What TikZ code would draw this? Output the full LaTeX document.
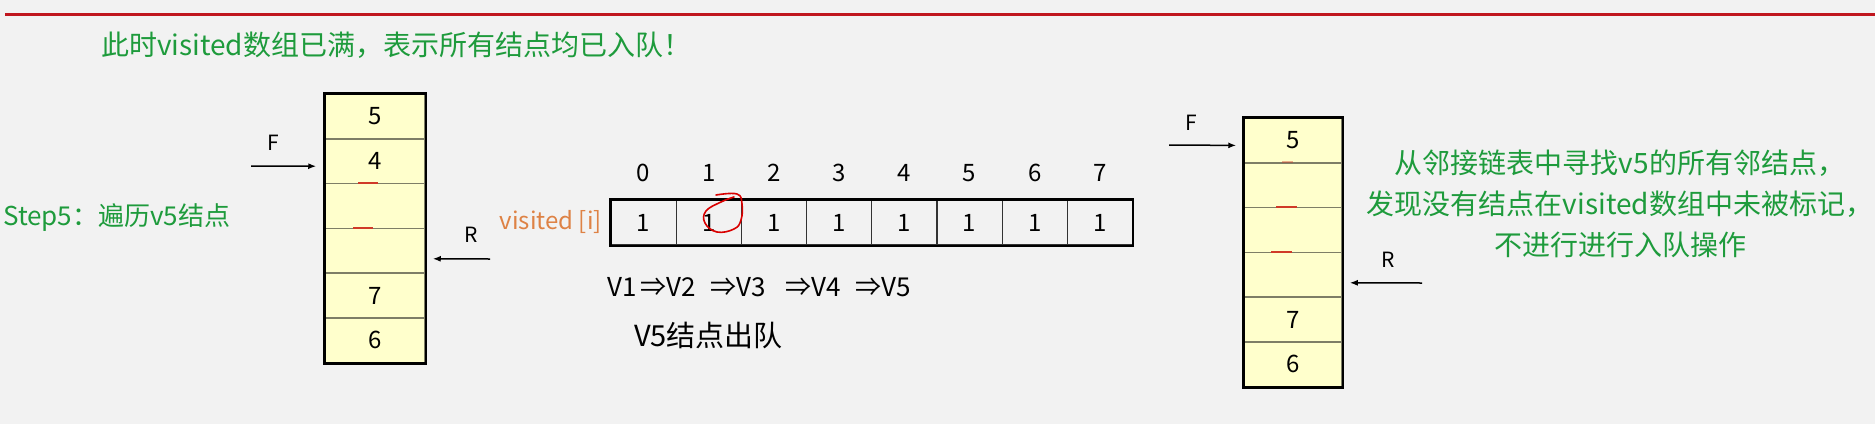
\documentclass[tikz,border=0pt]{standalone}
\usepackage{fontspec}
\setmainfont{Noto Sans CJK SC}
\usetikzlibrary{arrows.meta, positioning}
\definecolor{CGreen}{HTML}{1E9B3C}
\definecolor{COrange}{HTML}{DE8245}
\definecolor{CRed}{HTML}{C0161E}
\definecolor{CMark}{HTML}{D03A28}
\definecolor{QFill}{HTML}{FFFFCC}
\definecolor{QLine}{HTML}{7E7E66}
\definecolor{CBack}{HTML}{F2F2F2}

\tikzset{
    qcell/.style={draw=QLine, line width=1.5pt, fill=QFill, inner sep=0pt,
        minimum width=#1, minimum height=44.8pt, font=\fontsize{24}{24}\selectfont},
    qborder/.style={draw=black, line width=2.5pt},
    acell/.style={draw=black!80, line width=1.2pt, minimum width=65.2pt,
        minimum height=45pt, inner sep=0pt, font=\fontsize{24}{24}\selectfont},
    note/.style={CGreen, font=\fontsize{28}{41}\selectfont, inner sep=0pt},
    lbl/.style={font=\fontsize{21}{21}\selectfont, inner sep=0pt},
    ptr/.style={-{Latex[length=8pt,width=6pt]}, line width=1.5pt},
    redmark/.style={CMark, line width=2pt}
}

\begin{document}
\begin{tikzpicture}[x=1pt, y=-1pt]
    \useasboundingbox (0,0) rectangle (1875,424);
    \fill[CBack] (0,0) rectangle (1875,424);

    % Top rule
    \draw[CRed, line width=3pt] (5,14) -- (1875,14);

    % Notes
    \node[note, anchor=west] (title) at (101,45) {此时visited数组已满，表示所有结点均已入队！};
    \node[note, anchor=west, font=\fontsize{26}{26}\selectfont] (step) at (3,218) {Step5：遍历v5结点};

    % Left queue
    \foreach \val [count=\i] in {5,4,{},{},7,6}
        \node[qcell=100pt] (lq\i) at (375, 94+44.8*\i-22.4) {\val};
    \draw[qborder] (lq1.north west) rectangle (lq6.south east);
    \draw[redmark] ([xshift=-17pt]lq3.north) -- ++(20,0);
    \draw[redmark] ([xshift=-22pt]lq4.north) -- ++(20,0);

    % Left pointers
    \node[lbl] (lf) at (273,143) {F};
    \coordinate (lfs) at (251,166);
    \draw[ptr] (lfs) -- ([xshift=-8pt, yshift=-5pt]lq2.west);
    \node[lbl] (lr) at (471,235) {R};
    \coordinate (lrs) at (490,259);
    \draw[ptr] (lrs) -- ([xshift=7pt, yshift=-8pt]lq4.east);

    % visited array
    \node[COrange, font=\fontsize{24}{24}\selectfont, inner sep=0pt, anchor=east] (vis) at (602,222) {visited [i]};
    \foreach \i in {0,...,7} {
        \node[acell] (v\i) at (643.6+65.2*\i, 222.5) {1};
        \node[font=\fontsize{24}{24}\selectfont, inner sep=0pt] (idx\i) at (643.6+65.2*\i, 173) {\i};
    }
    \draw[draw=black, line width=2.2pt] (v0.north west) rectangle (v7.south east);

    % Hand-drawn circle round v1
    \draw[red!85!black, line width=1.6pt, line cap=round]
        plot[smooth, tension=0.7] coordinates {(716,195) (737,194) (742,204) (741,220)
        (734,229) (717,232) (705,223) (706,211) (721,202) (734,197)};

    % Dequeue order
    \node[font=\fontsize{26}{26}\selectfont, inner sep=0pt, anchor=west] (order) at (607,287)
        {V1\hspace{4pt}⇒V2\hspace{15pt}⇒V3\hspace{19pt}⇒V4\hspace{15pt}⇒V5};
    \node[font=\fontsize{29}{29}\selectfont, inner sep=0pt, anchor=west] (deq) at (634,335) {V5结点出队};

    % Right queue
    \foreach \val [count=\i] in {5,{},{},{},7,6}
        \node[qcell=98pt] (rq\i) at (1293, 118+44.8*\i-22.4) {\val};
    \draw[qborder] (rq1.north west) rectangle (rq6.south east);
    \draw[redmark, opacity=0.4] ([xshift=-11pt]rq2.north) -- ++(11,0);
    \draw[redmark] ([xshift=-17pt]rq3.north) -- ++(21,0);
    \draw[redmark] ([xshift=-22pt]rq4.north) -- ++(21,0);

    % Right pointers
    \node[lbl] (rf) at (1191,123) {F};
    \coordinate (rfs) at (1169,145);
    \draw[ptr] (rfs) -- ([xshift=-7pt, yshift=-5pt]rq1.west);
    \node[lbl] (rr) at (1388,260) {R};
    \coordinate (rrs) at (1422,283);
    \draw[ptr] (rrs) -- ([xshift=7pt, yshift=-8pt]rq4.east);

    % Right note
    \node[note, align=center] (result) at (1620,204)
        {从邻接链表中寻找v5的所有邻结点，\\发现没有结点在visited数组中未被标记，\\不进行进行入队操作};
\end{tikzpicture}
\end{document}
